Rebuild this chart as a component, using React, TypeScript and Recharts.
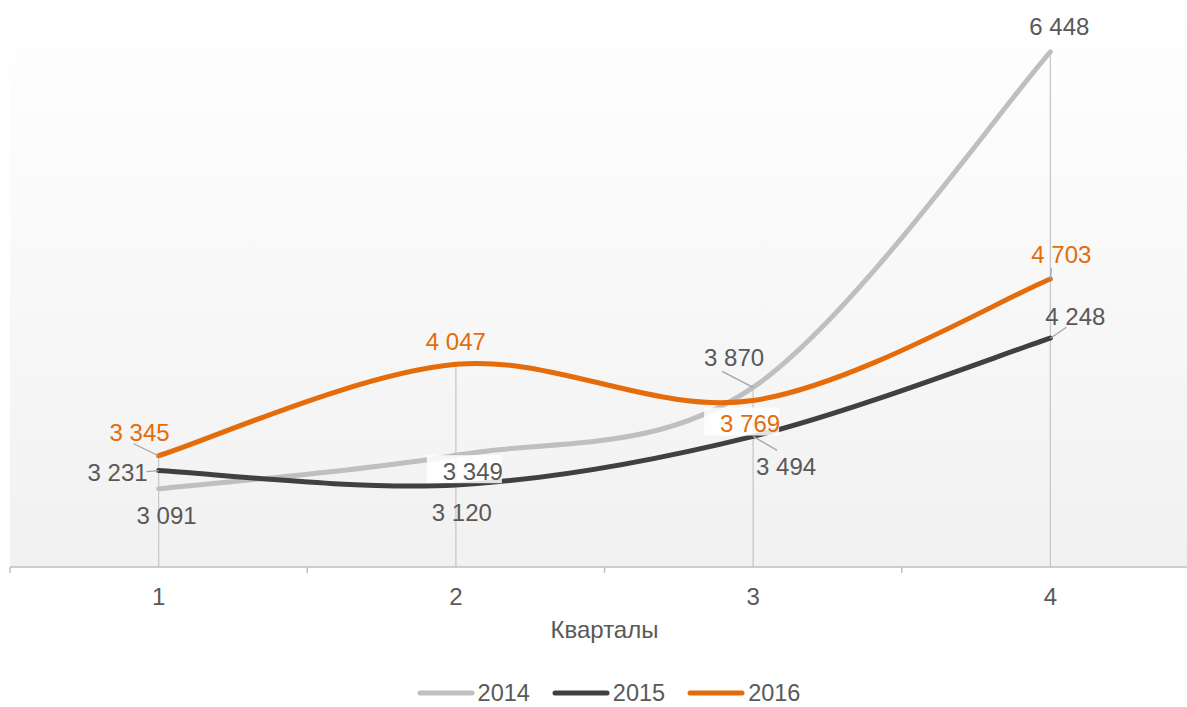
import { CartesianGrid, Legend, LabelList, Line, LineChart, ReferenceLine, XAxis, YAxis } from "recharts"

const quarters = ["1", "2", "3", "4"]
const sales2014 = [3091, 3349, 3870, 6448]
const sales2015 = [3231, 3120, 3494, 4248]
const sales2016 = [3345, 4047, 3769, 4703]
const yDomain = [2490, 6800]

const data = quarters.map((q, i) => ({
  q,
  y2014: sales2014[i],
  y2015: sales2015[i],
  y2016: sales2016[i],
}))

const W = 1210
const H = 707
const M = { top: 6, right: 11, left: 10, bottom: 0 }
const BAND = (W - M.left - M.right) / quarters.length
const FONT = "'Liberation Sans', Arial, sans-serif"
const FS = 24
const TEXT = "#595959"

const fmt = (v: number) => String(v).replace(/\B(?=(\d{3})+(?!\d))/g, " ")

// Excel-like smoothing: bezier segments with control points at 1/6 of neighbour span
const excelSmooth = (context: any) => {
  let pts: number[][] = []
  return {
    areaStart() {},
    areaEnd() {},
    lineStart() {
      pts = []
    },
    point(x: number, y: number) {
      pts.push([+x, +y])
    },
    lineEnd() {
      const n = pts.length
      if (!n) return
      context.moveTo(pts[0][0], pts[0][1])
      for (let i = 0; i < n - 1; i++) {
        const p0 = pts[i - 1] || pts[i]
        const p1 = pts[i]
        const p2 = pts[i + 1]
        const p3 = pts[i + 2] || p2
        context.bezierCurveTo(
          p1[0] + (p2[0] - p0[0]) / 6,
          p1[1] + (p2[1] - p0[1]) / 6,
          p2[0] - (p3[0] - p1[0]) / 6,
          p2[1] - (p3[1] - p1[1]) / 6,
          p2[0],
          p2[1]
        )
      }
    },
  }
}

type LabelPos = { dx: number; dy: number; box?: boolean; leader?: [number, number] }

const labelPos: Record<string, LabelPos[]> = {
  y2014: [
    { dx: 8, dy: 27 },
    { dx: 17, dy: 16, box: true },
    { dx: -19, dy: -30, leader: [-31, -16] },
    { dx: 9, dy: -25 },
  ],
  y2015: [
    { dx: -41, dy: 2, leader: [-12, 1] },
    { dx: 6, dy: 27 },
    { dx: 33, dy: 30, leader: [24, 14] },
    { dx: 25, dy: -22, leader: [16, -11] },
  ],
  y2016: [
    { dx: -19, dy: -23, leader: [-25, -12] },
    { dx: 0, dy: -23 },
    { dx: -3, dy: 23, box: true },
    { dx: 11, dy: -25, leader: [1, -11] },
  ],
}

const makeLabel = (key: string, color: string) => (props: any) => {
  const { x, y, value, index } = props
  const p = labelPos[key][index]
  const cx = x + p.dx
  const cy = y + p.dy
  return (
    <g>
      {p.leader && (
        <line x1={x} y1={y} x2={x + p.leader[0]} y2={y + p.leader[1]} stroke="#a6a6a6" strokeWidth={1.3} />
      )}
      {p.box && <rect x={cx - 46} y={cy - 16} width={75} height={28} fill="rgba(255,255,255,0.85)" />}
      <text x={cx} y={cy} dy="0.36em" textAnchor="middle" fill={color} fontSize={FS} fontFamily={FONT}>
        {fmt(value)}
      </text>
    </g>
  )
}

const QuarterTick = (props: any) => {
  const { x, y, payload } = props
  return (
    <g>
      <line x1={x - BAND / 2} y1={y} x2={x - BAND / 2} y2={y + 6} stroke="#bfbfbf" strokeWidth={1.5} />
      <text x={x} y={y + 29} dy="0.36em" textAnchor="middle" fill={TEXT} fontSize={FS} fontFamily={FONT}>
        {payload.value}
      </text>
    </g>
  )
}

const LegendContent = (props: any) => (
  <div
    style={{
      position: "relative",
      top: -4,
      display: "flex",
      justifyContent: "center",
      alignItems: "center",
      gap: 22,
      height: 20,
      lineHeight: "20px",
      paddingLeft: 8,
      boxSizing: "border-box",
      fontFamily: FONT,
      fontSize: 23.5,
      color: TEXT,
    }}
  >
    {(props.payload || []).map((e: any) => (
      <span key={e.value} style={{ display: "flex", alignItems: "center", height: 20 }}>
        <svg width={58} height={8} style={{ marginRight: 3 }}>
          <line x1={3} y1={4} x2={55} y2={4} stroke={e.color} strokeWidth={5} strokeLinecap="round" />
        </svg>
        {e.value}
      </span>
    ))}
  </div>
)

export default function App() {
  const dropTop = quarters.map((_, i) => Math.max(sales2014[i], sales2015[i], sales2016[i]))
  return (
    <div style={{ position: "absolute", left: 0, top: 0, width: 1187, height: 707, overflow: "hidden", background: "#fff" }}>
      <LineChart width={W} height={H} data={data} margin={M}>
        <defs>
          <linearGradient id="plotBg" x1="0" y1="0" x2="0" y2="1">
            <stop offset="0%" stopColor="#ffffff" />
            <stop offset="100%" stopColor="#f1f1f1" />
          </linearGradient>
        </defs>
        <CartesianGrid horizontal={false} vertical={false} fill="url(#plotBg)" stroke="none" />
        <XAxis
          dataKey="q"
          padding={{ left: BAND / 2, right: BAND / 2 }}
          height={120}
          tickSize={0}
          tickMargin={0}
          tickLine={false}
          axisLine={{ stroke: "#bfbfbf", strokeWidth: 1.5 }}
          tick={<QuarterTick />}
          interval={0}
          label={{ value: "Кварталы", position: "insideTop", offset: 54, fill: TEXT, fontSize: FS, fontFamily: FONT }}
        />
        <YAxis hide domain={yDomain} />
        {quarters.map((q, i) => (
          <ReferenceLine
            key={q}
            segment={[
              { x: q, y: yDomain[0] },
              { x: q, y: dropTop[i] },
            ]}
            stroke="#c8c8c8"
            strokeWidth={1.3}
          />
        ))}
        <Legend verticalAlign="bottom" content={<LegendContent />} />
        <Line
          dataKey="y2014"
          name="2014"
          type={excelSmooth as any}
          stroke="#bfbfbf"
          strokeWidth={5}
          strokeLinecap="round"
          dot={false}
          activeDot={false}
          isAnimationActive={false}
        >
          <LabelList dataKey="y2014" content={makeLabel("y2014", TEXT)} />
        </Line>
        <Line
          dataKey="y2015"
          name="2015"
          type={excelSmooth as any}
          stroke="#404040"
          strokeWidth={5}
          strokeLinecap="round"
          dot={false}
          activeDot={false}
          isAnimationActive={false}
        >
          <LabelList dataKey="y2015" content={makeLabel("y2015", TEXT)} />
        </Line>
        <Line
          dataKey="y2016"
          name="2016"
          type={excelSmooth as any}
          stroke="#e46c0a"
          strokeWidth={5}
          strokeLinecap="round"
          dot={false}
          activeDot={false}
          isAnimationActive={false}
        >
          <LabelList dataKey="y2016" content={makeLabel("y2016", "#e46c0a")} />
        </Line>
      </LineChart>
    </div>
  )
}
